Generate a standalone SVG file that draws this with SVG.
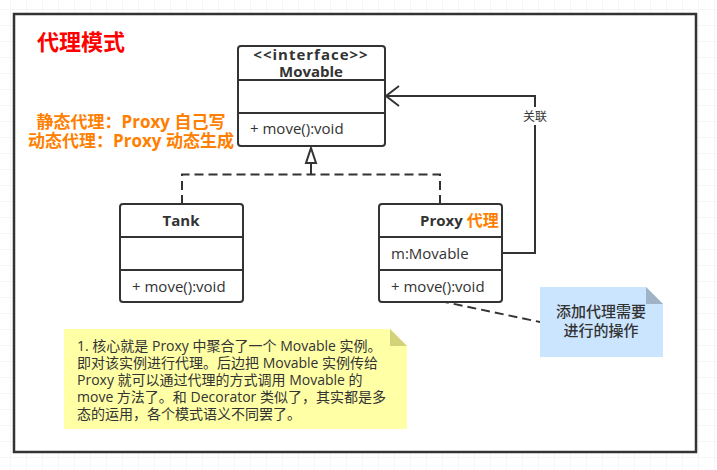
<svg xmlns="http://www.w3.org/2000/svg" width="717" height="470" viewBox="0 0 717 470">
<defs>
<pattern id="grid" x="10" y="9" width="16" height="16" patternUnits="userSpaceOnUse">
<path d="M0 0H16M0 0V16" fill="none" stroke="#eeeeee" stroke-width="1"/>
</pattern>
</defs>
<style>
.box{fill:#fff;stroke:#333;stroke-width:2}
.sep{stroke:#333;stroke-width:2}
.t{font-family:"Open Sans","Noto Sans CJK SC",sans-serif;font-size:15px;fill:#333}
.b{font-weight:bold}
.dash{fill:none;stroke:#333;stroke-width:2;stroke-dasharray:9 5}
.line{fill:none;stroke:#333;stroke-width:2}
.n{font-family:"Open Sans","Noto Sans CJK SC",sans-serif;font-size:14px;fill:#333}
</style>
<rect width="717" height="470" fill="#fff"/>
<rect width="717" height="470" fill="url(#grid)"/>
<rect x="14" y="14" width="682" height="438" fill="#fff" stroke="#333" stroke-width="2.5"/>

<text x="37" y="50" font-family="Noto Sans CJK SC,sans-serif" font-size="22" font-weight="bold" fill="#ff0000">代理模式</text>
<g font-family="Open Sans,Noto Sans CJK SC,sans-serif" font-size="17" font-weight="bold" fill="#ff8000" text-anchor="middle">
<text x="131" y="128">静态代理：Proxy 自己写</text>
<text x="131" y="147">动态代理：Proxy 动态生成</text>
</g>

<g id="connectors">
<path class="dash" d="M182 204 V174.5 H440 V204"/>
<path class="line" d="M311 174.5 V163"/>
<path d="M311 148 L316 163 L306 163 Z" fill="#fff" stroke="#333" stroke-width="2"/>
<path class="line" d="M502 253 H535 V96 H386"/>
<path class="line" d="M399 86 L386 96 L399 106"/>
<rect x="519" y="107" width="32" height="18" fill="#fff"/>
<text x="535" y="121" text-anchor="middle" font-family="Noto Sans CJK SC,sans-serif" font-size="12" fill="#333">关联</text>
<path class="dash" d="M440 301 L540 322"/>
</g>

<g id="movable">
<rect class="box" x="238" y="46" width="147" height="100" rx="3"/>
<line class="sep" x1="238" y1="80" x2="385" y2="80"/>
<line class="sep" x1="238" y1="113" x2="385" y2="113"/>
<text class="t b" x="311" y="60" text-anchor="middle" font-size="14" letter-spacing="1">&lt;&lt;interface&gt;&gt;</text>
<text class="t b" x="311" y="77" text-anchor="middle" font-size="14">Movable</text>
<text class="t" x="250" y="134">+ move():void</text>
</g>

<g id="tank">
<rect class="box" x="120" y="204" width="123" height="98" rx="3"/>
<line class="sep" x1="120" y1="237" x2="243" y2="237"/>
<line class="sep" x1="120" y1="270" x2="243" y2="270"/>
<text class="t b" x="181" y="226" text-anchor="middle" font-size="14">Tank</text>
<text class="t" x="132" y="292">+ move():void</text>
</g>

<g id="proxy">
<rect class="box" x="379" y="204" width="123" height="98" rx="3"/>
<line class="sep" x1="379" y1="237" x2="502" y2="237"/>
<line class="sep" x1="379" y1="270" x2="502" y2="270"/>
<text class="t b" x="420" y="226" font-size="14">Proxy <tspan fill="#ff8000" font-size="16">代理</tspan></text>
<text class="t" x="391" y="259">m:Movable</text>
<text class="t" x="391" y="292">+ move():void</text>
</g>

<g id="note-blue">
<path d="M540 287 H646 L663 304 V357 H540 Z" fill="#cce5ff"/>
<path d="M646 287 L663 304 H646 Z" fill="#9fb2c6"/>
<g font-family="Noto Sans CJK SC,sans-serif" font-size="15" fill="#333" text-anchor="middle" font-weight="500">
<text x="601" y="317">添加代理需要</text>
<text x="601" y="336">进行的操作</text>
</g>
</g>

<g id="note-yellow">
<path d="M64 329 H390 L407 346 V429 H64 Z" fill="#ffffa6"/>
<path d="M390 329 L407 346 H390 Z" fill="#d2d27a"/>
<text class="n" x="77" y="351">1. 核心就是 Proxy 中聚合了一个 Movable 实例。</text>
<text class="n" x="77" y="368">即对该实例进行代理。后边把 Movable 实例传给</text>
<text class="n" x="77" y="385">Proxy 就可以通过代理的方式调用 Movable 的</text>
<text class="n" x="77" y="402">move 方法了。和 Decorator 类似了，其实都是多</text>
<text class="n" x="77" y="419">态的运用，各个模式语义不同罢了。</text>
</g>
</svg>
